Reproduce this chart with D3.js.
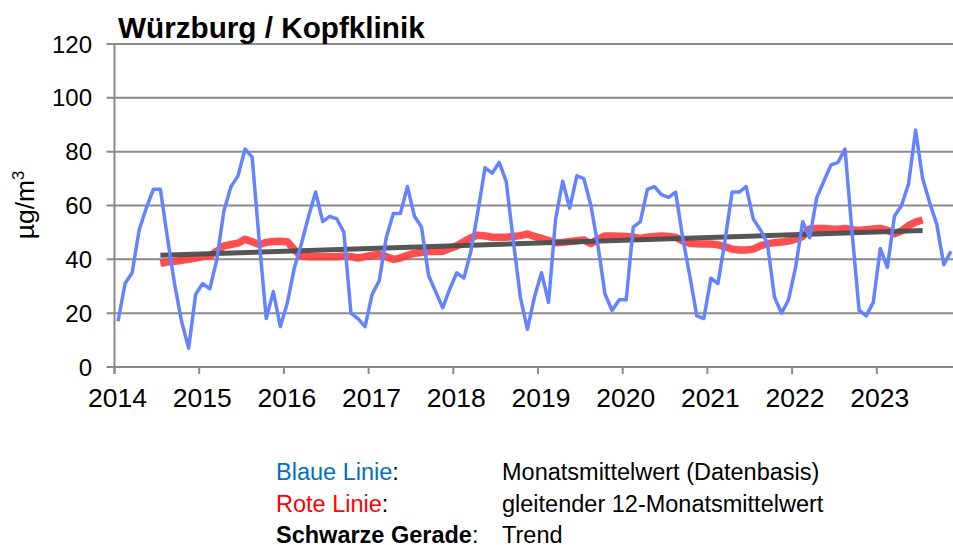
<!DOCTYPE html>
<html>
<head>
<meta charset="utf-8">
<script src="https://cdn.jsdelivr.net/npm/d3@7/dist/d3.min.js"></script>
<style>
  html, body { margin: 0; padding: 0; background: #fff; }
  svg { display: block; font-family: Arial, "Liberation Sans", sans-serif; }
</style>
</head>
<body>
<svg id="chart" width="953" height="545"></svg>
<script>
// Würzburg / Kopfklinik – monthly means from Jan 2014
const startYear = 2014;
const yearTicks = [2014, 2015, 2016, 2017, 2018, 2019, 2020, 2021, 2022, 2023];
const valueTicks = [0, 20, 40, 60, 80, 100, 120];

// Monatsmittelwert (Datenbasis), Jan 2014 – Nov 2023
const monthlyMean = [
  17, 31, 35, 51, 59, 66, 66, 48, 31, 17, 7, 27,
  31, 29, 40, 58, 67, 71, 81, 78, 47, 18, 28, 15,
  24, 37, 46, 56, 65, 54, 56, 55, 50, 20, 18, 15,
  27, 32, 48, 57, 57, 67, 56, 52, 34, 28, 22, 29,
  35, 33, 43, 58, 74, 72, 76, 69, 47, 26, 14, 26,
  35, 24, 55, 69, 59, 71, 70, 60, 45, 27, 21, 25,
  25, 52, 54, 66, 67, 64, 63, 65, 48, 34, 19, 18,
  33, 31, 47, 65, 65, 67, 55, 51, 46, 26, 20, 25,
  37, 54, 48, 63, 69, 75, 76, 81, 50, 21, 19, 24,
  44, 37, 56, 60, 68, 88, 70, 61, 53, 38, 43
];

// gleitender 12-Monatsmittelwert, Jul 2014 – Jul 2023
const movingStart = 6;
const movingMean = [
  38.5, 39.0, 39.3, 39.6, 40.0, 40.5,
  41.0, 41.3, 43.0, 45.0, 45.5, 46.0, 47.5, 46.5, 45.5, 46.3, 46.6, 46.7,
  46.5, 43.5, 41.2, 41.0, 41.0, 41.0, 41.0, 41.0, 41.2, 41.0, 40.5, 41.0,
  41.5, 41.8, 41.0, 40.0, 40.5, 41.5, 42.3, 42.5, 42.9, 42.9, 43.0, 44.0,
  45.0, 46.5, 48.0, 49.0, 48.7, 48.2, 48.2, 48.2, 48.5, 48.8, 49.4, 48.5,
  47.8, 47.0, 46.2, 46.3, 46.6, 46.9, 47.2, 45.8, 47.5, 48.7, 48.7, 48.6,
  48.5, 48.2, 47.8, 48.2, 48.5, 48.7, 48.5, 48.2, 46.8, 46.0, 45.8, 45.7,
  45.7, 45.4, 44.7, 43.8, 43.5, 43.5, 43.8, 45.0, 45.8, 46.2, 46.4, 46.8,
  47.5, 48.5, 51.3, 51.5, 51.5, 51.3, 51.2, 51.5, 51.0, 50.7, 51.0, 51.3,
  51.5, 50.8, 49.5, 50.5, 52.5, 53.8, 54.6
];

// Trend (straight line) between its first and last month
const trendMonths = [6, 114];
const trendValues = [41.5, 50.7];

const svg = d3.select("#chart");

const x = d3.scaleLinear().domain([2014, 2023.9]).range([114.5, 953]);
const y = d3.scaleLinear().domain([0, 120]).range([367, 44]);
const monthPos = i => x(startYear + (i + 0.5) / 12);

const gridColor = "#8a8a8a";

// horizontal grid with left tick marks
svg.append("g")
  .selectAll("line")
  .data(valueTicks)
  .join("line")
  .attr("x1", x(2014) - 8).attr("x2", 953)
  .attr("y1", d => y(d)).attr("y2", d => y(d))
  .attr("stroke", gridColor).attr("stroke-width", 2);

// value axis line
svg.append("line")
  .attr("x1", x(2014)).attr("x2", x(2014))
  .attr("y1", y(120)).attr("y2", y(0) + 7)
  .attr("stroke", gridColor).attr("stroke-width", 2);

// year tick marks
svg.append("g")
  .selectAll("line")
  .data(yearTicks)
  .join("line")
  .attr("x1", d => x(d)).attr("x2", d => x(d))
  .attr("y1", y(0)).attr("y2", y(0) + 7)
  .attr("stroke", gridColor).attr("stroke-width", 2);

// value labels
svg.append("g")
  .selectAll("text")
  .data(valueTicks)
  .join("text")
  .attr("x", 92).attr("y", d => y(d) + 8.5)
  .attr("text-anchor", "end")
  .attr("font-size", 24).attr("fill", "#000")
  .text(d => d);

// year labels
svg.append("g")
  .selectAll("text")
  .data(yearTicks)
  .join("text")
  .attr("x", d => x(d) + 3).attr("y", 407)
  .attr("text-anchor", "middle")
  .attr("font-size", 26.5).attr("fill", "#000")
  .text(d => d);

// unit label
const unit = svg.append("text")
  .attr("transform", "translate(34,205) rotate(-90)")
  .attr("text-anchor", "middle")
  .attr("font-size", 26.5).attr("fill", "#000");
unit.append("tspan").text("µg/m");
unit.append("tspan").attr("font-size", 16.5).attr("dy", -10).text("3");

// title
svg.append("text")
  .attr("x", 118).attr("y", 38)
  .attr("font-size", 29.7).attr("font-weight", "bold").attr("fill", "#000")
  .text("Würzburg / Kopfklinik");

const plot = svg.append("g");

// moving 12-month mean
plot.append("path")
  .datum(movingMean)
  .attr("fill", "none")
  .attr("stroke", "#ff3b3b")
  .attr("stroke-width", 7.5)
  .attr("stroke-linejoin", "round")
  .attr("stroke-opacity", 0.9)
  .attr("d", d3.line().x((d, i) => monthPos(i + movingStart)).y(d => y(d)));

// trend line
plot.append("path")
  .datum(trendMonths.map((m, k) => [m, trendValues[k]]))
  .attr("fill", "none")
  .attr("stroke", "#4d4d4d")
  .attr("stroke-width", 5)
  .attr("stroke-opacity", 0.95)
  .attr("d", d3.line().x(d => monthPos(d[0])).y(d => y(d[1])));

// monthly means
plot.append("path")
  .datum(monthlyMean)
  .attr("fill", "none")
  .attr("stroke", "#6383ff")
  .attr("stroke-width", 3.5)
  .attr("stroke-linejoin", "round")
  .attr("d", d3.line().x((d, i) => monthPos(i)).y(d => y(d)));

// legend
const legendRows = [
  { key: "Blaue Linie", color: "#0070c0", bold: false, desc: "Monatsmittelwert (Datenbasis)" },
  { key: "Rote Linie", color: "#ff0000", bold: false, desc: "gleitender 12-Monatsmittelwert" },
  { key: "Schwarze Gerade", color: "#000", bold: true, desc: "Trend" }
];
const legend = svg.append("g");
legendRows.forEach((r, k) => {
  const yy = 480 + k * 31.6;
  const t = legend.append("text")
    .attr("x", 276).attr("y", yy)
    .attr("font-size", 23.5);
  t.append("tspan").attr("fill", r.color).attr("font-weight", r.bold ? "bold" : "normal").text(r.key);
  t.append("tspan").attr("fill", "#000").text(":");
  legend.append("text")
    .attr("x", 502).attr("y", yy)
    .attr("font-size", 23.5).attr("fill", "#000")
    .text(r.desc);
});
</script>
</body>
</html>
